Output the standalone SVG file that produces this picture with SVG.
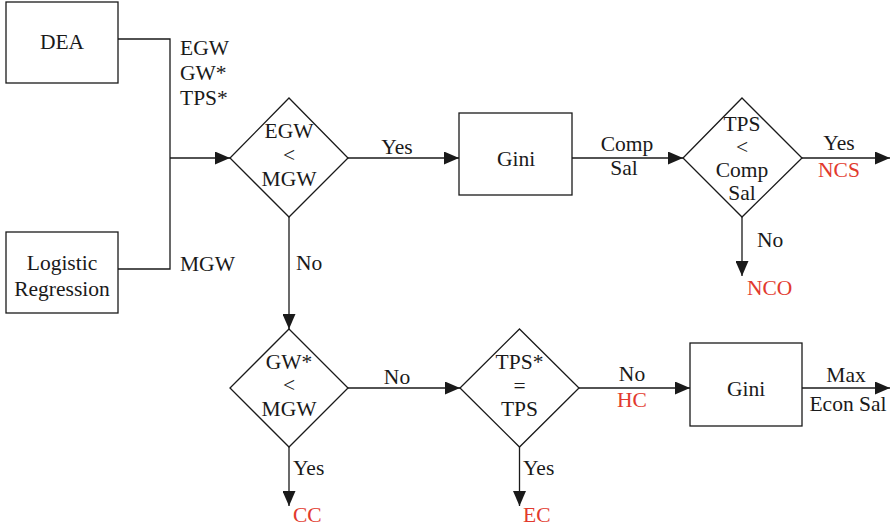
<svg xmlns="http://www.w3.org/2000/svg" width="893" height="528" viewBox="0 0 893 528" font-family="'Liberation Serif', 'Times New Roman', Times, 'DejaVu Serif', serif">
<defs>
<style>
.box{fill:#fff;stroke:#1a1a1a;stroke-width:1.3}
.ln{fill:none;stroke:#1a1a1a;stroke-width:1.3}
text{font-family:'Liberation Serif', 'Times New Roman', Times, 'DejaVu Serif', serif;font-size:21.5px;fill:#1a1a1a}
.c{text-anchor:middle}
.r{fill:#e23a2e}
</style>
<marker id="ah" viewBox="0 0 15 13" refX="15" refY="6.5" markerWidth="15" markerHeight="13" markerUnits="userSpaceOnUse" orient="auto">
<path d="M0,0 L15,6.5 L0,13 Z" fill="#1a1a1a"/>
</marker>
</defs>
<rect width="893" height="528" fill="#fff"/>
<g id="connectors">
<path class="ln" d="M118,39 H170 V269 H118"/>
<path class="ln" d="M170,158 H230" marker-end="url(#ah)"/>
<path class="ln" d="M348,158 H459" marker-end="url(#ah)"/>
<path class="ln" d="M572,158 H683" marker-end="url(#ah)"/>
<path class="ln" d="M802,158 H890" marker-end="url(#ah)"/>
<path class="ln" d="M742,217 V276" marker-end="url(#ah)"/>
<path class="ln" d="M289,217 V329" marker-end="url(#ah)"/>
<path class="ln" d="M348,388 H460" marker-end="url(#ah)"/>
<path class="ln" d="M579,388 H690" marker-end="url(#ah)"/>
<path class="ln" d="M802,388 H890" marker-end="url(#ah)"/>
<path class="ln" d="M289,447 V506" marker-end="url(#ah)"/>
<path class="ln" d="M519.5,447 V506" marker-end="url(#ah)"/>
<text x="180" y="55">EGW</text>
<text x="180" y="80">GW*</text>
<text x="180" y="105">TPS*</text>
<text x="180" y="271">MGW</text>
<text class="c" x="397" y="154">Yes</text>
<text x="296" y="270">No</text>
<text class="c" x="627" y="151">Comp</text>
<text class="c" x="624" y="175">Sal</text>
<text class="c" x="839" y="150">Yes</text>
<text class="c r" x="839" y="177">NCS</text>
<text x="757" y="247">No</text>
<text class="r" x="747" y="295">NCO</text>
<text class="c" x="397" y="384">No</text>
<text class="c" x="632" y="381">No</text>
<text class="c r" x="632" y="407">HC</text>
<text class="c" x="846" y="382">Max</text>
<text class="c" x="848" y="411">Econ Sal</text>
<text x="293" y="475">Yes</text>
<text class="r" x="293" y="522">CC</text>
<text x="523" y="475">Yes</text>
<text class="r" x="523" y="522">EC</text>
</g>
<g id="dea">
<rect class="box" x="6" y="2" width="112" height="81"/>
<text class="c" x="62" y="49">DEA</text>
</g>
<g id="logistic">
<rect class="box" x="6" y="232" width="112" height="81"/>
<text class="c" x="62" y="270">Logistic</text>
<text class="c" x="62" y="296">Regression</text>
</g>
<g id="d1">
<path class="box" d="M289,98 L348,158 L289,217 L230,158 Z"/>
<text class="c" x="289" y="138">EGW</text>
<text class="c" x="289" y="162">&lt;</text>
<text class="c" x="289" y="186">MGW</text>
</g>
<g id="gini1">
<rect class="box" x="459" y="113" width="113" height="82"/>
<text class="c" x="516" y="166">Gini</text>
</g>
<g id="d2">
<path class="box" d="M742,98 L802,158 L742,217 L683,158 Z"/>
<text class="c" x="742" y="131">TPS</text>
<text class="c" x="742" y="154">&lt;</text>
<text class="c" x="742" y="177">Comp</text>
<text class="c" x="742" y="200">Sal</text>
</g>
<g id="d3">
<path class="box" d="M289,329 L348,388 L289,447 L230,388 Z"/>
<text class="c" x="289" y="369">GW*</text>
<text class="c" x="289" y="392">&lt;</text>
<text class="c" x="289" y="416">MGW</text>
</g>
<g id="d4">
<path class="box" d="M519.5,329 L579,388 L519.5,447 L460,388 Z"/>
<text class="c" x="519.5" y="369">TPS*</text>
<text class="c" x="519.5" y="393">=</text>
<text class="c" x="519.5" y="416">TPS</text>
</g>
<g id="gini2">
<rect class="box" x="690" y="343" width="112" height="83"/>
<text class="c" x="746" y="396">Gini</text>
</g>
</svg>
